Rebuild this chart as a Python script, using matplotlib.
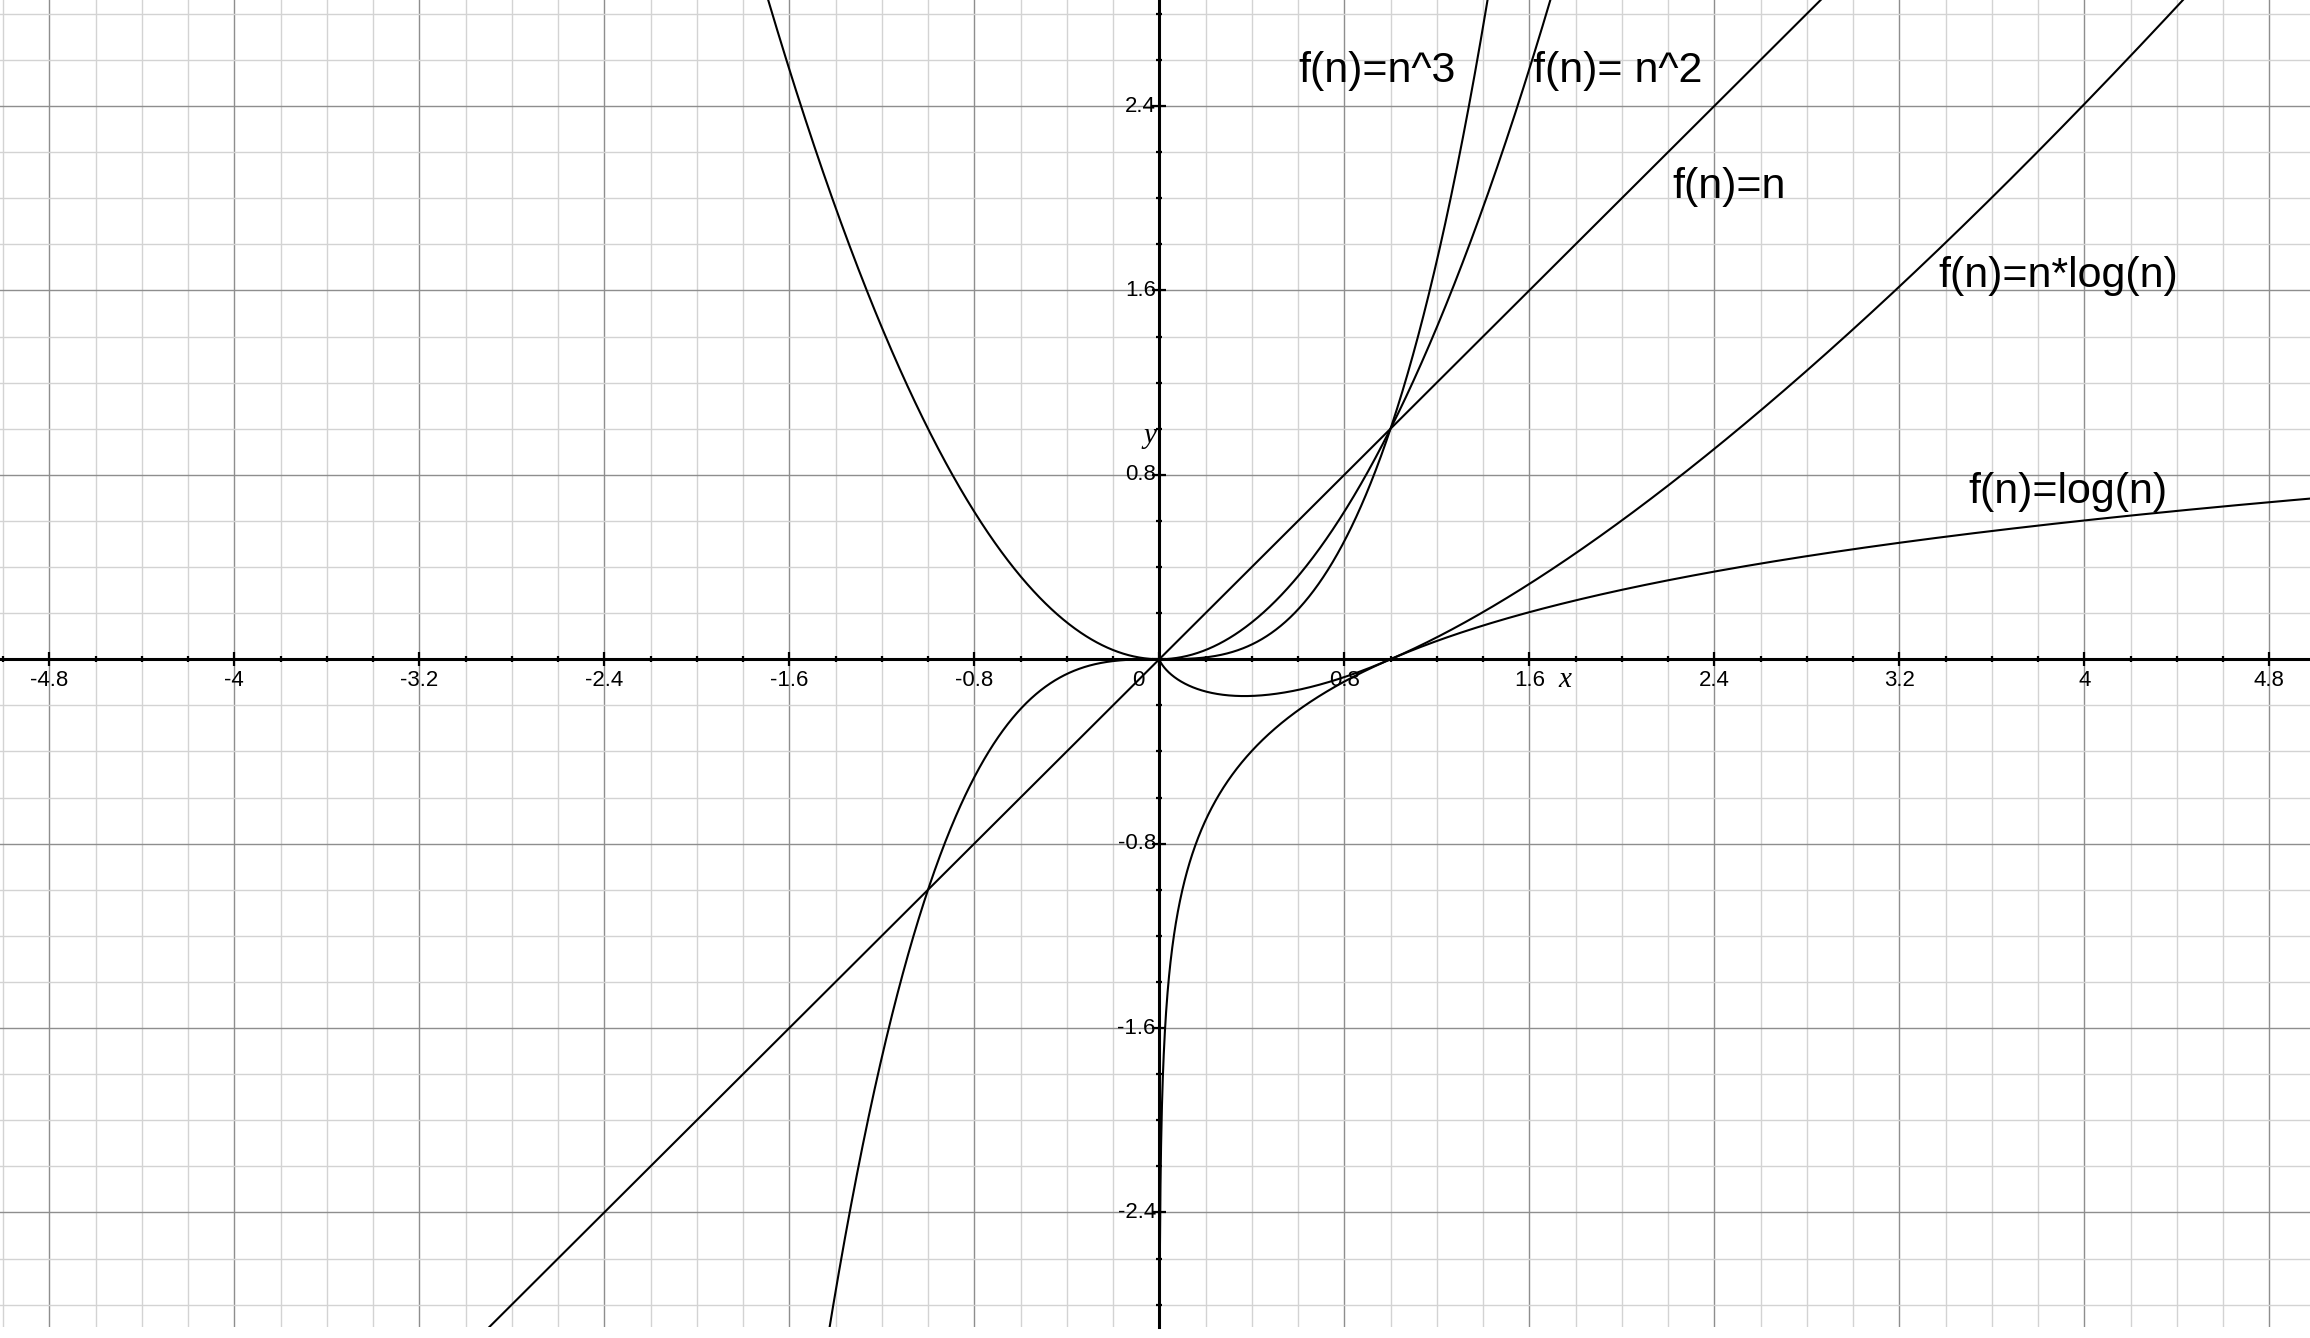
import numpy as np
import matplotlib
matplotlib.use("Agg")
import matplotlib.pyplot as plt
from matplotlib.ticker import MultipleLocator

# view window (data units)
x_limits = (-5.013, 4.976)
y_limits = (-2.897, 2.860)

# labelled ticks
x_tick_labels = [-4.8, -4, -3.2, -2.4, -1.6, -0.8, 0.8, 1.6, 2.4, 3.2, 4, 4.8]
y_tick_labels = [2.4, 1.6, 0.8, -0.8, -1.6, -2.4]

# curve labels and where they sit
curve_names = ["f(n)=n^3", "f(n)= n^2", "f(n)=n", "f(n)=n*log(n)", "f(n)=log(n)"]
label_x = [0.600, 1.616, 2.217, 3.367, 3.497]
label_y = [2.505, 2.505, 2.003, 1.615, 0.678]

FONT = "Liberation Sans"

x_all = np.linspace(-5.1, 5.1, 4001)
x_pos = np.linspace(1e-4, 5.1, 4001)

curves = [
    (x_all, x_all ** 3),
    (x_all, x_all ** 2),
    (x_all, x_all),
    (x_pos, x_pos * np.log10(x_pos)),
    (x_pos, np.log10(x_pos)),
]

fig = plt.figure(figsize=(23.1, 13.38), dpi=100)
ax = fig.add_axes([0, 11 / 1338, 1, 1327 / 1338])
ax.set_xlim(*x_limits)
ax.set_ylim(*y_limits)

ax.xaxis.set_major_locator(MultipleLocator(0.8))
ax.yaxis.set_major_locator(MultipleLocator(0.8))
ax.xaxis.set_minor_locator(MultipleLocator(0.2))
ax.yaxis.set_minor_locator(MultipleLocator(0.2))

ax.grid(which="minor", color="#d3d3d3", linewidth=1.0, zorder=0)
ax.grid(which="major", color="#8e8e8e", linewidth=1.0, zorder=0)
ax.set_axisbelow(True)

for side in ["top", "right"]:
    ax.spines[side].set_visible(False)
ax.spines["left"].set_position("zero")
ax.spines["bottom"].set_position("zero")
for side in ["left", "bottom"]:
    ax.spines[side].set_linewidth(2.2)
    ax.spines[side].set_zorder(3)

ax.tick_params(which="major", direction="inout", length=10, width=1.6,
               labelbottom=False, labelleft=False)
ax.tick_params(which="minor", direction="inout", length=5, width=1.6)

for xs, ys in curves:
    ax.plot(xs, ys, color="black", linewidth=1.5, zorder=4, clip_on=True)

# tick labels, drawn by hand like the original
for v in x_tick_labels:
    ax.text(v, -0.045, f"{v:g}", ha="center", va="top",
            fontsize=16, family=FONT)
ax.text(-0.09, -0.045, "0", ha="center", va="top", fontsize=16, family=FONT)
for v in y_tick_labels:
    ax.text(-0.015, v, f"{v:g}", ha="right", va="center",
            fontsize=16, family=FONT)

ax.text(1.754, -0.09, "x", ha="center", va="center", fontsize=21,
        family="Liberation Serif", style="italic")
ax.text(-0.04, 0.97, "y", ha="center", va="center", fontsize=21,
        family="Liberation Serif", style="italic")

for name, lx, ly in zip(curve_names, label_x, label_y):
    ax.text(lx, ly, name, ha="left", va="baseline", fontsize=31,
            family=FONT, zorder=5)

fig.savefig("out.png", dpi=100)
